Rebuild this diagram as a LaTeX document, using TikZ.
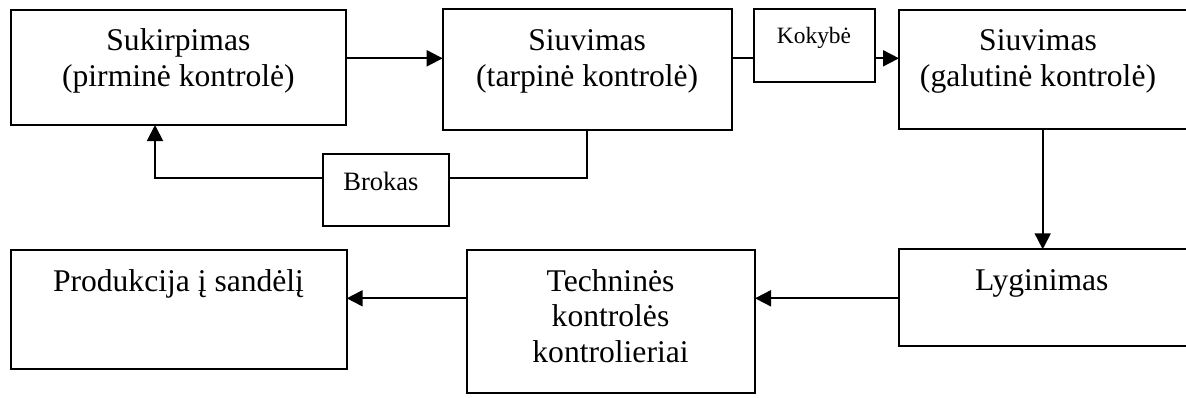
\documentclass[tikz,border=0pt]{standalone}
\usepackage{fontspec}
\setmainfont{Liberation Serif}
\usetikzlibrary{arrows.meta}
\begin{document}
\begin{tikzpicture}[x=1pt,y=-1pt,
  box/.style={draw=black,line width=1.9pt,rectangle,inner sep=0pt,outer sep=0pt,anchor=north west},
  lbl/.style={anchor=base,inner sep=0pt,font=\fontsize{31.6}{36}\selectfont},
  smalllbl/.style={anchor=base,inner sep=0pt,font=\fontsize{26.5}{32}\selectfont},
  tinylbl/.style={anchor=base,inner sep=0pt,font=\fontsize{23.4}{28}\selectfont},
  link/.style={line width=1.9pt},
  flow/.style={line width=1.9pt,-{Triangle[length=16pt,width=16pt]}}]
\useasboundingbox (0,0) rectangle (1186,397);
\clip (0,0) rectangle (1186,397);
% process boxes (top row)
\node[box,minimum width=335.3pt,minimum height=115pt] (sk) at (10.7,10) {};
\node[box,minimum width=289pt,minimum height=120.7pt] (st) at (442.7,9.3) {};
\node[box,minimum width=121pt,minimum height=72.4pt] (kk) at (754,9.3) {};
\node[box,minimum width=288pt,minimum height=119.3pt] (sg) at (899,10) {};
\node[box,minimum width=126.6pt,minimum height=72pt] (br) at (322.7,154) {};
% process boxes (bottom row)
\node[box,minimum width=336pt,minimum height=119.3pt] (pr) at (10.7,250) {};
\node[box,minimum width=288.3pt,minimum height=143.3pt] (tk) at (466.7,250) {};
\node[box,minimum width=288pt,minimum height=96.4pt] (lg) at (899,249.3) {};
% labels
\node[lbl] (skA) at (178.4,50.5) {Sukirpimas};
\node[lbl] (skB) at (178.4,86) {(pirminė kontrolė)};
\node[lbl] (stA) at (587.2,50.5) {Siuvimas};
\node[lbl] (stB) at (587.2,86) {(tarpinė kontrolė)};
\node[tinylbl] (kkA) at (814,43.3) {Kokybė};
\node[lbl] (sgA) at (1038,50.5) {Siuvimas};
\node[lbl] (sgB) at (1038,86) {(galutinė kontrolė)};
\node[smalllbl] (brA) at (381,190.7) {Brokas};
\node[lbl] (prA) at (178.5,291) {Produkcija į sandėlį};
\node[lbl] (tkA) at (610.5,291) {Techninės};
\node[lbl] (tkB) at (610.5,326.7) {kontrolės};
\node[lbl] (tkC) at (610.5,362.7) {kontrolieriai};
\node[lbl] (lgA) at (1041.7,290) {Lyginimas};
% routing rows and columns
\coordinate (rowA) at (0,58.3);
\coordinate (rowB) at (0,177.7);
\coordinate (rowC) at (0,298.3);
\coordinate (colA) at (155,0);
\coordinate (colB) at (586.7,0);
\coordinate (colC) at (1042.7,0);
% connectors
\draw[flow] (sk.east |- rowA) -- (st.west |- rowA);
\draw[link] (st.east |- rowA) -- (kk.west |- rowA);
\draw[flow] (kk.east |- rowA) -- (sg.west |- rowA);
\draw[link] (st.south -| colB) |- (br.east |- rowB);
\draw[flow] (br.west |- rowB) -| (sk.south -| colA);
\draw[flow] (sg.south -| colC) -- (lg.north -| colC);
\draw[flow] (lg.west |- rowC) -- (tk.east |- rowC);
\draw[flow] (tk.west |- rowC) -- (pr.east |- rowC);
\end{tikzpicture}
\end{document}
